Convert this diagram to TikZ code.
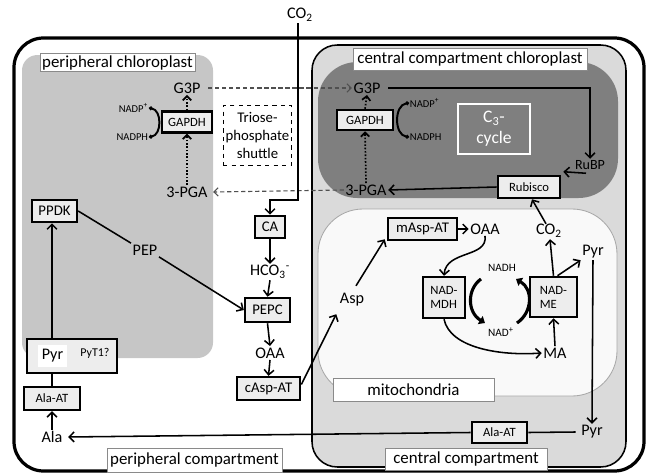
\documentclass[tikz,border=0pt]{standalone}
\usepackage{fontspec}
\setmainfont{Carlito}
\usetikzlibrary{arrows.meta,calc}

\begin{document}
\begin{tikzpicture}[x=0.025cm, y=-0.025cm,
    enzyme/.style={draw, line width=1.8pt, fill=boxColour, inner xsep=2pt, inner ysep=1pt,
        minimum height=0.55cm, font=\fontsize{9}{10}\selectfont},
    bigenzyme/.style={enzyme, font=\fontsize{10.5}{11}\selectfont},
    metab/.style={inner sep=1pt, font=\fontsize{11.5}{12}\selectfont},
    cofactor/.style={inner sep=0.5pt, font=\fontsize{7.5}{8}\selectfont},
    compartlabel/.style={draw=labelBorder, fill=white, line width=0.5pt, inner sep=1pt,
        font=\fontsize{12}{13}\selectfont},
    flow/.style={line width=1.1pt, -{Straight Barb[length=3.5pt,width=7pt]}},
    plain/.style={line width=1.1pt},
    shuttle/.style={draw=dashColour, line width=0.8pt, dash pattern=on 3pt off 2pt,
        -{Straight Barb[length=3pt,width=6pt]}},
    reduction/.style={line width=1.2pt, dash pattern=on 1.1pt off 1.3pt,
        -{Straight Barb[length=3pt,width=6pt]}},
    cofarc/.style={line width=1.4pt, {Circle[length=2.6pt]}-{Circle[length=2.6pt]}},
    mitoarc/.style={line width=2.2pt, -{Triangle[length=4pt,width=6.5pt]}}
]
    % Define colours
    \definecolor{boxColour}{HTML}{EDEDED}
    \definecolor{periChloro}{HTML}{C6C6C6}
    \definecolor{centralComp}{HTML}{DADADA}
    \definecolor{centralChloro}{HTML}{7F7F7F}
    \definecolor{mitoFill}{HTML}{F9F9F9}
    \definecolor{mitoBorder}{HTML}{A8A8A8}
    \definecolor{labelBorder}{HTML}{8A8A8A}
    \definecolor{dashColour}{HTML}{505050}

    \useasboundingbox (0,0) rectangle (647,474);

    % Draw cell and compartments
    \draw[line width=2.3pt, rounded corners=21pt] (14,38) rectangle (644,471);
    \fill[periChloro, rounded corners=11pt] (22,55) rectangle (213,358);
    \draw[fill=centralComp, line width=1.1pt, rounded corners=18pt] (312,45) rectangle (626,467);
    \fill[centralChloro, rounded corners=28pt] (318,62) rectangle (618,198);
    \draw[fill=mitoFill, draw=mitoBorder, line width=0.6pt, rounded corners=32pt] (318,209) rectangle (617,396);

    % Compartment labels
    \node[compartlabel, minimum width=3.88cm, minimum height=0.45cm] (periChloroLabel) at (117.5,62.5) {peripheral chloroplast};
    \node[compartlabel, minimum width=5.85cm, minimum height=0.55cm] (centralChloroLabel) at (470,59) {central compartment chloroplast};
    \node[compartlabel, minimum width=4.03cm, minimum height=0.58cm] (mitoLabel) at (413.5,389.5) {mitochondria};
    \node[compartlabel, minimum width=4.38cm, minimum height=0.6cm] (periCompLabel) at (194.5,460) {peripheral compartment};
    \node[compartlabel, minimum width=4.05cm, minimum height=0.55cm] (centralCompLabel) at (466,459) {central compartment};

    % Peripheral chloroplast
    \node[metab] (g3pP) at (187,88) {G3P};
    \node[enzyme, minimum width=1.25cm, minimum height=0.52cm] (gapdhP) at (187,122) {GAPDH};
    \node[metab] (pgaP) at (187,192) {3-PGA};
    \node[cofactor, anchor=east] (nadpP) at (149,108) {NADP\textsuperscript{+}};
    \node[cofactor, anchor=east] (nadphP) at (149,137) {NADPH};
    \node[draw, dashed, line width=0.7pt, align=center, inner sep=1pt, minimum width=1.72cm,
        minimum height=1.48cm, font=\fontsize{10.5}{13}\selectfont] (shuttleBox) at (257.5,135.5)
        {Triose-\\phosphate\\shuttle};
    \node[bigenzyme, minimum width=1.12cm] (ppdk) at (54.5,211) {PPDK};
    \node[metab] (pep) at (145,250) {PEP};

    \draw[reduction] (pgaP.north) -- (gapdhP.south);
    \draw[reduction] (gapdhP.north) -- (g3pP.south);
    \draw[cofarc] (nadpP.east) .. controls (162,110) and (162,135) .. (nadphP.east);

    % Central chloroplast
    \node[metab] (g3pC) at (367,88) {G3P};
    \node[enzyme, minimum width=1.4cm, minimum height=0.5cm] (gapdhC) at (365,120) {GAPDH};
    \node[metab] (pgaC) at (366,190) {3-PGA};
    \node[cofactor, anchor=west] (nadpC) at (409,103) {NADP\textsuperscript{+}};
    \node[cofactor, anchor=west] (nadphC) at (409,137) {NADPH};
    \node[draw=white, line width=0.8pt, text=white, align=center, minimum width=1.8cm,
        minimum height=1.25cm, font=\fontsize{12.5}{15}\selectfont] (c3) at (494,129)
        {C\textsubscript{3}-\\cycle};
    \node[metab, font=\fontsize{10}{11}\selectfont] (rubp) at (590,165) {RuBP};
    \node[enzyme, minimum width=1.55cm] (rubisco) at (529,187) {Rubisco};

    \draw[reduction] (pgaC.north) -- (gapdhC.south);
    \draw[reduction] (gapdhC.north) -- (g3pC.south);
    \draw[cofarc] (nadpC.west) .. controls (394,105) and (394,135) .. (nadphC.west);
    \draw[flow] (g3pC.east) ++(6,0) -| (rubp.north);
    \draw[flow] ($(rubp.south)+(-4,2)$) -- ($(rubisco.north east)+(2,-3)$);
    \draw[flow] (rubisco.west) -- (pgaC.east);

    % Triose-phosphate shuttle
    \draw[shuttle] (g3pP.east) ++(6,0) -- (g3pC.west);
    \draw[shuttle] (pgaC.west) -- ($(pgaP.east)+(4,0)$);

    % Cytosol of the peripheral compartment
    \node[metab] (co2Top) at (300,15) {CO\textsubscript{2}};
    \coordinate (co2Bend) at (298,200);
    \node[bigenzyme, minimum width=0.75cm] (ca) at (270,227) {CA};
    \node[metab] (hco3) at (270,272) {HCO\textsubscript{3}\textsuperscript{-}};
    \node[bigenzyme, minimum width=1.12cm, minimum height=0.6cm] (pepc) at (267.5,310) {PEPC};
    \node[metab] (oaaP) at (270,353) {OAA};
    \node[bigenzyme, minimum width=1.58cm, minimum height=0.57cm] (casp) at (268.5,388.5) {cAsp-AT};

    \draw[flow] (co2Top.south -| co2Bend) -- (co2Bend) -| (ca.north);
    \draw[flow] (ca.south) -- (hco3.north);
    \draw[flow] (hco3.south) -- (pepc.north);
    \draw[flow] (pepc.south) -- (oaaP.north);
    \draw[flow] (oaaP.south) -- (casp.north);
    \draw[plain] (ppdk.east) -- (pep.north west);
    \draw[flow] (pep.south east) -- (pepc.west);

    % Pyruvate transport and alanine
    \node[enzyme, minimum width=2.25cm, minimum height=0.85cm] (pyrBox) at (72,356) {};
    \node[fill=white, minimum width=0.72cm, minimum height=0.55cm, inner sep=0pt,
        font=\fontsize{11.5}{12}\selectfont] (pyrP) at (52.5,356) {Pyr};
    \node[inner sep=0pt, font=\fontsize{8.5}{9}\selectfont] (pyt) at (95,353) {PyT1?};
    \node[enzyme, minimum width=1.4cm, minimum height=0.57cm] (alaATP) at (52,398.5) {Ala-AT};
    \node[metab] (ala) at (52,437) {Ala};
    \node[enzyme, minimum width=1.38cm, minimum height=0.52cm] (alaATC) at (499.5,432.5) {Ala-AT};
    \node[metab] (pyrC2) at (592,432) {Pyr};

    \draw[flow] (pyrBox.north -| alaATP.north) -- (ppdk.south -| alaATP.north);
    \draw[plain] (alaATP.north) -- (pyrBox.south -| alaATP.north);
    \draw[flow] (ala.north) -- (alaATP.south);
    \draw[plain] (pyrC2.west) ++(-4,0) -- (alaATC.east);
    \draw[flow] (alaATC.west) -- ($(ala.east)+(4,0)$);

    % Mitochondria
    \node[bigenzyme, minimum width=1.72cm] (masp) at (422.5,229) {mAsp-AT};
    \node[metab] (oaaM) at (485,229) {OAA};
    \node[metab] (asp) at (352,300) {Asp};
    \node[metab] (co2M) at (549,231) {CO\textsubscript{2}};
    \node[metab] (pyrC1) at (593,252) {Pyr};
    \node[enzyme, align=left, minimum width=1.05cm, minimum height=1.02cm] (nadmdh) at (444,297.5) {NAD-\\MDH};
    \node[enzyme, align=left, minimum width=1.18cm, minimum height=1.0cm] (nadme) at (553.5,297) {NAD-\\ME};
    \node[cofactor, font=\fontsize{8}{9}\selectfont] (nadh) at (502,268) {NADH};
    \node[cofactor, font=\fontsize{8}{9}\selectfont] (nadp) at (501,332) {NAD\textsuperscript{+}};
    \node[metab] (ma) at (555,353) {MA};

    \draw[flow] (masp.east) -- (oaaM.west);
    \draw[flow] ($(asp.north)+(4,-6)$) -- ($(masp.south west)+(-2,-2)$);
    \draw[flow] ($(casp.east)+(0,-4)$) -- ($(asp.south west)+(-2,6)$);
    \draw[flow] (oaaM.south) .. controls (488,258) and (446,250) .. (nadmdh.north);
    \draw[flow] (nadmdh.south) .. controls (450,348) and (500,356) .. (ma.west);
    \draw[flow] (ma.north) -- (nadme.south);
    \draw[flow] (nadme.north) -- ($(co2M.south)+(1,0)$);
    \draw[flow] ($(nadme.north)+(4,0)$) -- (pyrC1.south west);
    \draw[flow] (pyrC1.south) -- (pyrC2.north);
    \draw[mitoarc] (481,279) .. controls (467,289) and (467,312) .. (485,323);
    \draw[mitoarc] (517,323) .. controls (533,312) and (533,289) .. (516,279);

    % Carbon dioxide to Rubisco
    \draw[flow] ($(co2M.north)+(-3,1)$) -- ($(rubisco.south)+(3,0)$);

\end{tikzpicture}
\end{document}
